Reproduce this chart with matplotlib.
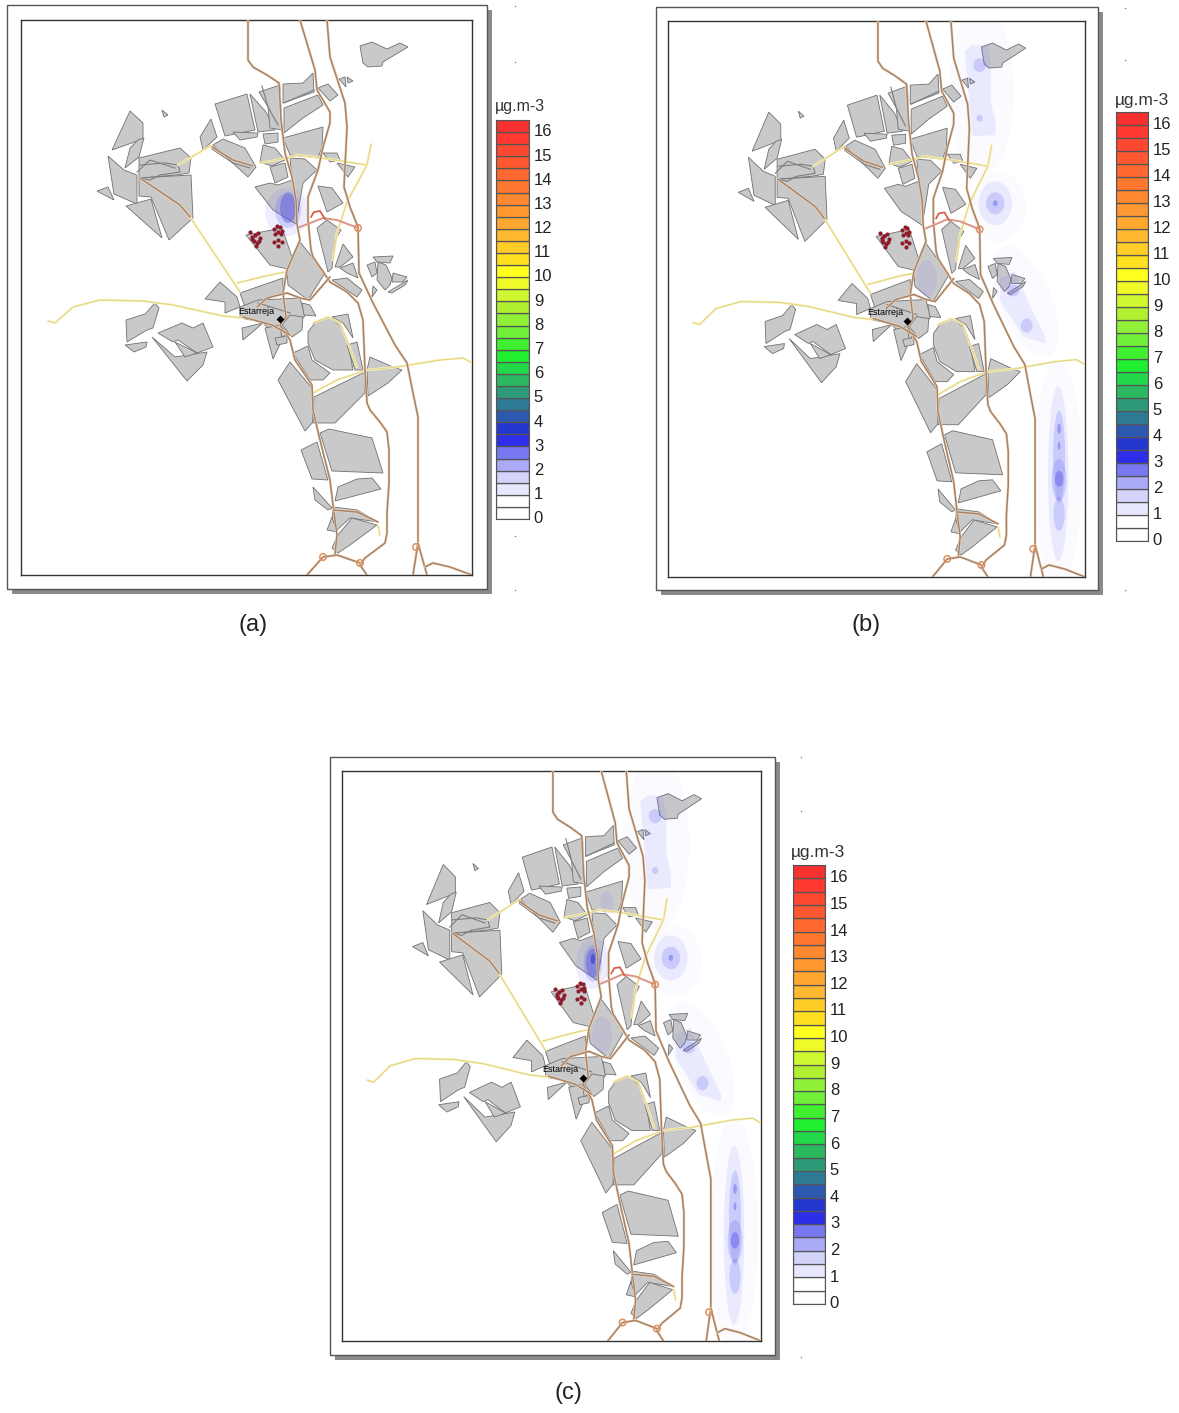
import matplotlib
matplotlib.use("Agg")
import matplotlib.pyplot as plt
from matplotlib.patches import Ellipse, Polygon, Rectangle

plt.rcParams['font.family'] = ['Liberation Sans', 'DejaVu Sans']

W, H = 1179, 1413

# land parcels
parcels = [
    [(215,104),(247,94),(255,130),(225,136)],
    [(250,94),(266,112),(275,130),(258,132)],
    [(259,92),(280,85),(282,130),(270,128),(268,107)],
    [(283,84),(303,83),(313,73),(314,92),(283,103)],
    [(284,108),(318,95),(323,105),(303,118),(284,133)],
    [(283,138),(323,127),(322,147),(318,158),(290,155)],
    [(211,119),(217,137),(203,150),(200,137)],
    [(233,132),(258,133),(257,137),(240,140)],
    [(213,145),(223,139),(245,148),(256,167),(248,177)],
    [(263,134),(278,133),(278,142),(265,144)],
    [(263,145),(275,148),(285,160),(272,166),(260,162)],
    [(270,167),(285,163),(288,177),(275,183)],
    [(290,158),(305,159),(317,170),(303,183),(296,224),(273,210),(255,187),(270,183),(278,185),(292,180)],
    [(323,153),(337,153),(340,160),(330,162)],
    [(337,163),(355,167),(348,177)],
    [(318,186),(332,188),(343,203),(327,212)],
    [(318,88),(328,84),(338,95),(330,101)],
    [(360,46),(372,42),(387,49),(400,43),(408,47),(383,62),(382,66),(368,67),(363,63)],
    [(339,79),(345,77),(346,87)],
    [(347,77),(353,81),(348,83)],
    [(130,111),(143,123),(143,139),(112,150)],
    [(162,110),(168,115),(164,117)],
    [(138,140),(144,138),(139,157),(125,168),(130,148)],
    [(108,156),(124,170),(137,175),(137,204),(114,194)],
    [(97,191),(108,187),(114,200)],
    [(139,158),(180,148),(191,158),(189,173),(177,175),(139,178)],
    [(139,178),(191,175),(193,218),(169,240),(151,197),(139,196)],
    [(126,206),(151,199),(162,238)],
    [(126,320),(145,314),(155,303),(159,308),(153,328),(147,330),(127,342)],
    [(125,345),(147,342),(146,347),(134,352)],
    [(158,333),(182,323),(193,328),(203,323),(213,347),(197,353),(178,340),(173,342)],
    [(152,337),(175,357),(207,352),(203,365),(187,381)],
    [(175,342),(197,353),(185,357)],
    [(246,235),(282,228),(292,257),(288,269),(270,265)],
    [(300,242),(325,273),(308,300),(288,285),(287,270)],
    [(317,228),(327,220),(341,230),(335,240),(332,268),(328,272)],
    [(343,244),(353,257),(340,267),(335,267)],
    [(340,268),(353,263),(358,278),(347,273)],
    [(332,280),(347,278),(362,290),(357,297)],
    [(367,265),(375,262),(377,273),(372,277)],
    [(373,257),(393,256),(390,263),(377,262)],
    [(378,262),(386,265),(392,278),(390,285),(385,290),(377,280)],
    [(393,273),(407,277),(403,282),(392,282)],
    [(388,292),(408,280),(405,285),(392,293)],
    [(373,286),(377,290),(372,297)],
    [(205,299),(220,282),(237,297),(240,307),(225,313),(225,302)],
    [(240,293),(283,278),(283,293),(257,303),(245,307)],
    [(240,307),(258,300),(300,298),(305,316),(290,330),(280,340),(262,322),(240,318)],
    [(302,303),(310,305),(316,316),(304,315)],
    [(242,328),(263,323),(243,340)],
    [(265,328),(280,325),(282,340),(273,359)],
    [(275,338),(287,336),(287,343),(277,345)],
    [(290,315),(303,317),(302,330),(292,337),(282,325)],
    [(315,323),(328,317),(340,325),(348,343),(353,370),(333,370),(315,360),(308,343),(308,332)],
    [(332,317),(348,314),(353,338),(343,323)],
    [(347,345),(357,342),(363,370),(355,370)],
    [(293,353),(308,346),(312,360),(330,373),(323,380),(310,380)],
    [(370,357),(393,367),(402,370),(388,383),(368,396),(367,370)],
    [(290,362),(312,388),(313,422),(305,431),(278,380)],
    [(314,397),(365,372),(365,393),(335,423),(313,423)],
    [(329,429),(372,438),(383,473),(332,471),(320,433)],
    [(301,450),(317,442),(328,480),(312,479)],
    [(338,487),(357,479),(372,478),(381,489),(335,501)],
    [(313,487),(332,508),(328,510),(315,500)],
    [(333,507),(357,510),(378,522),(350,518),(337,530),(332,520)],
    [(327,530),(332,517),(337,532)],
    [(338,535),(352,518),(377,525),(350,545),(338,553),(332,548)],
]

brown_roads = [
    [(248,20),(248,60),(253,67),(267,75),(279,83),(281,120),(285,153),(292,177),(296,200),(297,224),(300,240),(287,270),(283,293),(286,317),(280,325),(290,340),(295,360),(312,385),(313,410),(320,440),(330,480),(333,505),(337,535),(335,555)],
    [(300,20),(315,70),(317,90),(330,112),(330,123),(323,147),(318,170),(308,197),(308,220),(311,250),(313,257),(330,282),(347,292),(358,303),(363,320),(365,370),(367,403),(370,410),(380,422),(387,432),(389,450),(389,483),(387,513),(387,533),(385,543),(365,558),(360,565),(367,575)],
    [(327,20),(330,57),(345,103),(347,127),(344,187),(350,207),(358,227),(359,273),(373,303),(395,345),(407,363),(413,393),(418,417),(418,543),(413,575)],
    [(418,543),(427,575)],
    [(425,567),(433,563),(450,567),(472,575)],
    [(307,575),(323,557),(337,555),(360,563)],
    [(140,178),(180,205),(190,217)],
    [(212,147),(233,160),(253,166)],
    [(243,317),(272,325),(290,335)],
    [(257,307),(267,298),(287,293),(300,298),(310,300),(330,277)],
    [(333,510),(357,512),(378,522)],
]

grey_roads = [
    [(140,165),(165,163),(178,165),(180,172),(160,175),(150,180),(140,178)],
    [(137,172),(150,160),(175,168)],
    [(212,149),(233,163),(250,168)],
    [(262,86),(268,107),(278,125)],
    [(284,103),(314,90)],
    [(258,303),(290,313)],
]

yellow_roads = [
    [(48,321),(55,323),(73,307),(100,300),(143,301),(173,305),(223,316),(243,318)],
    [(190,217),(240,292)],
    [(237,283),(270,275),(285,272)],
    [(178,165),(212,145)],
    [(260,163),(287,158),(298,155),(322,158),(367,165),(371,144)],
    [(367,165),(347,202),(337,233),(333,260)],
    [(313,393),(337,380),(367,370),(397,367),(440,360),(463,358),(472,363)],
    [(313,323),(328,317),(340,323),(348,343),(357,367)],
    [(378,525),(380,535)],
]

red_road = [(300,227),(323,218),(337,220),(358,228)]
red_arc = [(311,217),(314,212),(320,211),(325,219)]
junction_x = [358,323,360,416]
junction_y = [228,557,563,547]

town_x, town_y = 280, 319
town_name = "Estarreja"
town_label_x, town_label_y = 256, 311

red_x = [250,252,255,258,260,254,257,252,256,259,274,277,280,282,278,275,281,274,278,282,278]
red_y = [232,237,235,233,238,241,243,239,246,241,229,226,227,231,232,234,234,242,240,242,246]

# concentration contours as (x, y, width, height, angle, level)
source_a = [
    (287,212,44,48,0,1),(288,210,26,36,0,2),(288,208,16,30,0,3),
]
source_c = [
    (291,207,36,50,0,1),(291,207,20,36,0,2),(291,207,15,28,0,3),(291,203,5,10,0,4),
    (306,148,14,22,0,1),
]
source_others = [
    (360,90,70,170,0,0),(408,300,55,120,-25,0),(443,470,52,225,0,0),(378,205,60,70,0,0),
    (358,64,14,14,0,2),(358,117,7,7,0,2),
    (375,202,36,44,0,1),(375,202,20,22,0,2),(375,202,5,6,0,3),
    (394,289,14,12,0,2),(409,324,13,14,0,2),
    (443,472,22,175,0,1),(444,455,13,92,0,2),(444,512,12,34,0,2),
    (444,478,16,42,0,2),(444,477,9,16,0,3),(444,427,4,10,0,3),(444,444,3,8,0,3),
    (301,277,22,36,0,1),
]
plume_strips = [
    [(342,50),(350,44),(366,44),(370,60),(370,100),(375,120),(375,134),(350,135),(346,90)],
    [(380,277),(396,270),(410,299),(429,335),(429,342),(405,335),(380,299)],
]

level_colors = ['#6a6aff', '#7a7aff', '#6060f0', '#4848e4', '#2828c8']
level_alphas = [0.025, 0.13, 0.22, 0.38, 0.5]

band_colors = [
    '#ffffff','#ffffff','#e8e8ff','#d4d4fa','#aaaaf6','#7878f0','#2e2ee8','#2438d0',
    '#2c58b0','#2c7a94','#2c9a78','#2cb860','#22d848','#20ee30','#40f030','#70f038',
    '#90f038','#b0f030','#d0f830','#f0fa28','#ffff20','#ffe020','#ffcc28','#ffb830',
    '#ffa830','#ff9830','#ff8830','#ff7830','#ff6830','#ff5830','#ff4830','#ff3830','#f83030',
]
band_ticks = list(range(17))
unit_label = "µg.m-3"

# pixel boxes: outer frame, inner map, colour bar, unit label, caption, sources, specks
panels = [
    dict(outer=(7,5,487,589), inner=(21,20,472,575), bar=(496,120,529,519),
         unit=(520,106), unit_size=11.5, caption=("(a)",253,625), srcs=[source_a], strips=False,
         specks=[(515,6),(515,62),(515,536),(515,590)]),
    dict(outer=(656,7,1098,590), inner=(668,21,1085,577), bar=(1116,112,1148,541),
         unit=(1142,100), unit_size=12.5, caption=("(b)",866,625), srcs=[source_others], strips=True,
         specks=[(1125,8),(1125,60),(1125,590)]),
    dict(outer=(330,757,775,1355), inner=(342,771,761,1341), bar=(793,865,825,1304),
         unit=(818,852), unit_size=12.5, caption=("(c)",568,1393), srcs=[source_c, source_others], strips=True,
         specks=[(801,757),(801,811),(801,1357)]),
]

fig = plt.figure(figsize=(W / 100, H / 100), dpi=100)
page = fig.add_axes([0, 0, 1, 1])
page.set_xlim(0, W)
page.set_ylim(H, 0)
page.axis('off')


def box(x0, y0, x1, y1):
    return [x0 / W, 1 - y1 / H, (x1 - x0) / W, (y1 - y0) / H]


for p in panels:
    x0, y0, x1, y1 = p['outer']
    page.add_patch(Rectangle((x0 + 5, y0 + 5), x1 - x0, y1 - y0, fc='#8a8a8a', ec='none'))
    page.add_patch(Rectangle((x0, y0), x1 - x0, y1 - y0, fc='white', ec='#555555', lw=1))
    page.text(p['caption'][1], p['caption'][2], p['caption'][0], fontsize=17,
              ha='center', va='center', color='#222222')
    page.scatter(*zip(*p['specks']), s=1, color='#777777', linewidths=0)

    ax = fig.add_axes(box(*p['inner']))
    ax.set_xlim(21, 472)
    ax.set_ylim(575, 20)
    ax.set_xticks([])
    ax.set_yticks([])
    for s in ax.spines.values():
        s.set_color('#333333')
        s.set_linewidth(1)

    for poly in parcels:
        ax.add_patch(Polygon(poly, closed=True, fc='#c9c9c9', ec='#707070', lw=0.6, zorder=2))
    for src in p['srcs']:
        for cx, cy, w, h, ang, lev in src:
            ax.add_patch(Ellipse((cx, cy), w, h, angle=ang, fc=level_colors[lev], ec='none',
                                 alpha=level_alphas[lev], zorder=3))
    if p['strips']:
        for strip in plume_strips:
            ax.add_patch(Polygon(strip, closed=True, fc=level_colors[1], ec='none',
                                 alpha=level_alphas[1], zorder=3))
    for road in grey_roads:
        ax.plot(*zip(*road), color='#7d7d7d', lw=0.8, zorder=4)
    for road in yellow_roads:
        ax.plot(*zip(*road), color='#fff6c8', lw=1.8, zorder=4, solid_capstyle='round')
        ax.plot(*zip(*road), color='#e2d68a', lw=0.9, zorder=4, solid_capstyle='round')
    for road in brown_roads:
        ax.plot(*zip(*road), color='#f0dcc4', lw=1.9, zorder=5, solid_capstyle='round')
        ax.plot(*zip(*road), color='#a98266', lw=1.1, zorder=5, solid_capstyle='round')
    ax.plot(*zip(*red_road), color='#dc9484', lw=1.4, zorder=6)
    ax.plot(*zip(*red_arc), color='#d8604e', lw=1.3, zorder=6)
    ax.scatter(junction_x, junction_y, s=22, facecolors='none', edgecolors='#e09060',
               linewidths=1.1, zorder=6)
    ax.scatter(red_x, red_y, s=9, color='#8c1c2c', linewidths=0, zorder=6)
    ax.scatter([town_x], [town_y], s=16, marker='D', color='black', linewidths=0, zorder=7)
    ax.text(town_label_x, town_label_y, town_name, fontsize=6.5, ha='center', va='center',
            color='black', zorder=7)

    cax = fig.add_axes(box(*p['bar']))
    cax.bar([0] * len(band_colors), [0.5] * len(band_colors),
            bottom=[-0.07 + 0.5 * i for i in range(len(band_colors))], width=1,
            color=band_colors, edgecolor='#555555', linewidth=0.9)
    cax.set_xlim(-0.5, 0.5)
    cax.set_ylim(-0.07, 16.43)
    cax.set_xticks([])
    cax.yaxis.tick_right()
    cax.set_yticks(band_ticks)
    cax.tick_params(axis='y', length=0, pad=3.5, labelsize=12, labelcolor='#222222')
    for s in cax.spines.values():
        s.set_color('#555555')
    page.text(p['unit'][0], p['unit'][1], unit_label, fontsize=p['unit_size'], ha='center',
              va='center', color='#333333')

fig.savefig('out.png', dpi=100)
